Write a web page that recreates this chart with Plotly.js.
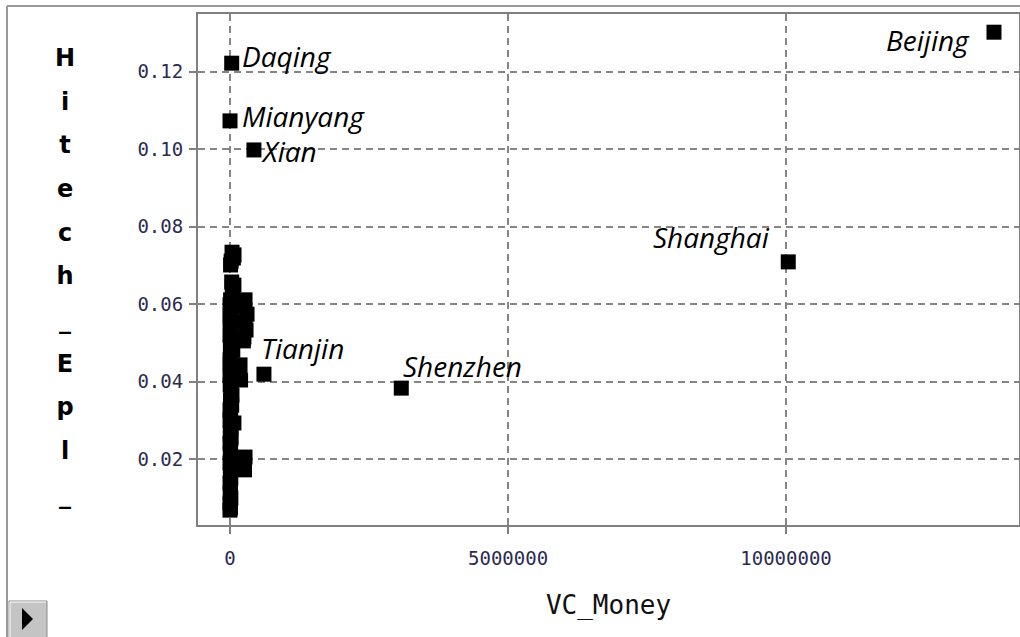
<!DOCTYPE html>
<html>
<head>
<meta charset="utf-8">
<script src="https://cdn.plot.ly/plotly-3.0.1.min.js"></script>
<style>
  html, body { margin: 0; padding: 0; background: #ffffff; }
  #chart { width: 1020px; height: 637px; }
</style>
</head>
<body>
<div id="chart"></div>
<script>
// ---- Data ----
const cityNames  = ["Beijing", "Shanghai", "Shenzhen", "Tianjin", "Xian", "Mianyang", "Daqing"];
const cityVC     = [13740000, 10040000, 3080000, 610000, 430000, 0, 30000];
const cityHitech = [0.1302, 0.0709, 0.0383, 0.0419, 0.0998, 0.1073, 0.1222];

// the unlabelled cities packed near VC_Money = 0
const otherVC = [
  36000, 72000, 60000, 20000, 10000,
  30000, 70000, 40000,
  10000, 0, 15000, 5000, 0, 12000, 8000, 0, 14000, 6000,
  270000, 250000, 306000, 270000, 288000, 250000, 240000,
  50000, 10000, 0,
  180000, 170000, 190000, 5000, 15000, 0, 10000, 3000,
  20000, 35000, 8000, 30000, 0,
  12000, 70000,
  0, 16000, 4000, 20000, 0, 10000,
  270000, 250000, 260000, 5000, 18000, 0, 12000, 6000,
  14000, 0, 9000, 3000, 15000, 0, 7000, 0
];
const otherHitech = [
  0.0734, 0.0727, 0.0719, 0.0711, 0.0701,
  0.0657, 0.0649, 0.0642,
  0.0611, 0.0598, 0.0585, 0.0572, 0.0559, 0.0546, 0.0533, 0.0520, 0.0507, 0.0494,
  0.0611, 0.0592, 0.0574, 0.0554, 0.0533, 0.0515, 0.0505,
  0.0481, 0.0469, 0.0456,
  0.0443, 0.0425, 0.0404, 0.0443, 0.0430, 0.0417, 0.0404, 0.0391,
  0.0378, 0.0365, 0.0352, 0.0339, 0.0327,
  0.0314, 0.0293,
  0.0301, 0.0280, 0.0267, 0.0254, 0.0241, 0.0228,
  0.0205, 0.0190, 0.0172, 0.0215, 0.0203, 0.0190, 0.0177, 0.0164,
  0.0151, 0.0138, 0.0125, 0.0112, 0.0099, 0.0086, 0.0074, 0.0068
];

const xTickVals = [0, 5000000, 10000000];
const xTickText = ["0", "5000000", "10000000"];
const yTickVals = [0.02, 0.04, 0.06, 0.08, 0.10, 0.12];
const yTickText = ["0.02", "0.04", "0.06", "0.08", "0.10", "0.12"];
const xTitle = "VC_Money";
const yTitle = "Hitech_Epl_";

// ---- Label placement styles (pixel offsets from each marker) ----
const labelAnchor = ["right", "right", "left", "left", "left", "left", "left"];
const labelDX     = [-22, -16, 0, -5, 5, 10, 8];
const labelDY     = [-8, 25, 22, 26, -1, 5, 7];

// ---- Geometry helpers (pixel -> paper) ----
const L = 198, R = 1019, T = 14, B = 525;
const px = p => (p - L) / (R - L);
const py = p => (B - p) / (B - T);

const markerStyle = { symbol: "square", size: 15, color: "#000000", line: { width: 0 } };

const traces = [
  {
    type: "scatter", mode: "markers", name: "other cities",
    x: otherVC, y: otherHitech,
    marker: markerStyle, showlegend: false
  },
  {
    type: "scatter", mode: "markers", name: "labelled cities",
    x: cityVC, y: cityHitech, text: cityNames,
    marker: markerStyle, showlegend: false
  }
];

const labelAnnotations = cityNames.map((name, i) => ({
  xref: "x", yref: "y", x: cityVC[i], y: cityHitech[i],
  text: name, showarrow: false,
  xanchor: labelAnchor[i], yanchor: "middle",
  xshift: labelDX[i], yshift: labelDY[i],
  font: { family: "Open Sans", size: 28, color: "#000000", style: "italic" }
}));

const gridStyle = { showgrid: true, gridcolor: "#858585", gridwidth: 2, griddash: "7px,5px" };

const layout = {
  width: 1020, height: 637,
  margin: { l: L, r: 1020 - R, t: T, b: 637 - B, pad: 0 },
  paper_bgcolor: "#ffffff", plot_bgcolor: "#ffffff",
  showlegend: false,
  xaxis: Object.assign({
    range: [-576000, 14190000],
    tickmode: "array", tickvals: xTickVals, ticktext: xTickText,
    ticks: "outside", ticklen: 7, tickwidth: 2, tickcolor: "#808080",
    ticklabelstandoff: 8,
    tickfont: { family: "DejaVu Sans Mono", size: 19, color: "#2b2b50" },
    showline: true, mirror: true, linecolor: "#808080", linewidth: 2,
    zeroline: false,
    title: { text: xTitle, font: { family: "DejaVu Sans Mono", size: 26, color: "#111111" }, standoff: 28 }
  }, gridStyle),
  yaxis: Object.assign({
    range: [0.00296, 0.1349],
    tickmode: "array", tickvals: yTickVals, ticktext: yTickText,
    ticks: "outside", ticklen: 7, tickwidth: 2, tickcolor: "#808080",
    ticklabelstandoff: 2,
    tickfont: { family: "DejaVu Sans Mono", size: 19, color: "#2b2b50" },
    showline: true, mirror: true, linecolor: "#808080", linewidth: 2,
    zeroline: false
  }, gridStyle),
  annotations: labelAnnotations.concat([
    {
      xref: "paper", yref: "paper", x: px(65), y: py(276),
      xanchor: "center", yanchor: "middle", showarrow: false,
      text: yTitle.split("").map(c => '<span style="font-size:24px">' + c + '</span>').join("<br><br>"),
      font: { family: "DejaVu Sans", size: 16.8, color: "#000000", weight: "bold" }
    }
  ]),
  shapes: [
    // outer window frame
    { type: "line", xref: "paper", yref: "paper", x0: px(7), x1: px(7), y0: py(6), y1: py(640), line: { color: "#9a9a9a", width: 2 } },
    { type: "line", xref: "paper", yref: "paper", x0: px(7), x1: px(1022), y0: py(6), y1: py(6), line: { color: "#9a9a9a", width: 2 } },
    // small play button
    { type: "rect", xref: "paper", yref: "paper", x0: px(9), x1: px(47), y0: py(601), y1: py(640), fillcolor: "#c4c4c4", line: { color: "#8a8a8a", width: 1 } },
    { type: "line", xref: "paper", yref: "paper", x0: px(10), x1: px(46), y0: py(602), y1: py(602), line: { color: "#ffffff", width: 1 } },
    { type: "line", xref: "paper", yref: "paper", x0: px(10), x1: px(10), y0: py(602), y1: py(637), line: { color: "#ffffff", width: 1 } },
    { type: "path", xref: "paper", yref: "paper",
      path: "M " + px(22) + "," + py(608) + " L " + px(22) + "," + py(630) + " L " + px(33) + "," + py(619) + " Z",
      fillcolor: "#000000", line: { width: 0 } }
  ]
};

Plotly.newPlot("chart", traces, layout, { displayModeBar: false, staticPlot: true });
</script>
</body>
</html>
